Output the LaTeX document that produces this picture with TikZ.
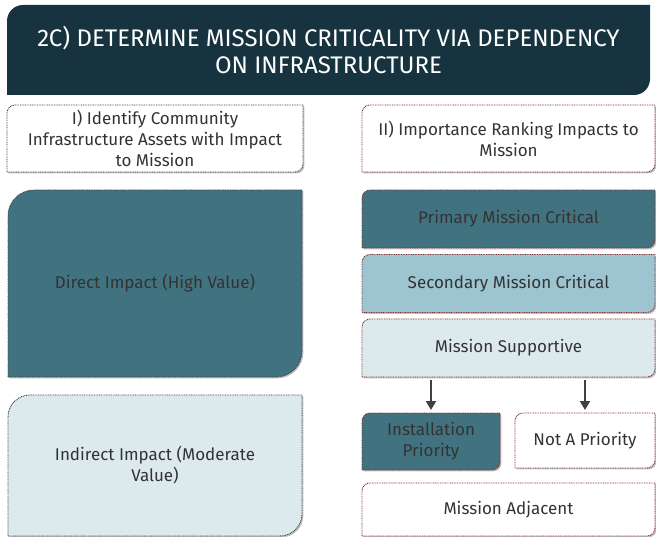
\documentclass[tikz,border=0pt]{standalone}
\usepackage{fontspec}
\setmainfont{Fira Sans}
\usetikzlibrary{positioning,arrows.meta,backgrounds}

\definecolor{titlebg}{HTML}{17333F}
\definecolor{deepteal}{HTML}{41727F}
\definecolor{midteal}{HTML}{9CC4D1}
\definecolor{paleteal}{HTML}{DCEAEE}
\definecolor{boxtext}{HTML}{333333}
\definecolor{greyline}{HTML}{404040}
\definecolor{redline}{HTML}{7E2E2E}

% outline with round top-left and bottom-right corners
\newcommand\diagpath[2]{(#1.south west) -- ([yshift=-#2]#1.north west)
  arc[start angle=180,end angle=90,radius=#2] -- (#1.north east)
  -- ([yshift=#2]#1.south east) arc[start angle=0,end angle=-90,radius=#2] -- cycle}
\newcommand\panel[4]{%
  \fill[black!45,opacity=.55,transform canvas={shift={(1.4pt,-1.4pt)}}] \diagpath{#1}{#2};
  \filldraw[fill=#3,draw=#4,line width=.9pt,dash pattern=on .9pt off .8pt] \diagpath{#1}{#2};}

\tikzset{
  box/.style={inner sep=0pt, outer sep=0pt, align=center, text=boxtext,
    font=\fontsize{17}{21}\selectfont, anchor=north west},
  wide/.style={box, minimum width=293pt, minimum height=58pt},
  downarrow/.style={line width=2.2pt, draw=greyline,
    -{Triangle[length=9pt,width=10pt]}, shorten <=3pt, shorten >=3pt}
}

\begin{document}
\begin{tikzpicture}[x=1pt,y=-1pt]
        \useasboundingbox (0,0) rectangle (656,537);

        \node [box, minimum width=643pt, minimum height=90pt, text=white,
               font=\fontsize{24}{27}\selectfont] (title) at (7,5)
              {2C) DETERMINE MISSION CRITICALITY VIA DEPENDENCY\\ON INFRASTRUCTURE};

        % left column
        \node [box, minimum width=296pt, minimum height=67pt] (identify) at (7,105)
              {I) Identify Community\\Infrastructure Assets with Impact\\to Mission};
        \node [box, minimum width=294pt, minimum height=187pt] (direct) at (8,190)
              {Direct Impact (High Value)};
        \node [box, minimum width=294pt, minimum height=141pt] (indirect) at (8,395)
              {Indirect Impact (Moderate\\Value)};

        % right column
        \node [box, minimum width=293pt, minimum height=67pt] (ranking) at (362,105)
              {II) Importance Ranking Impacts to\\Mission};
        \node [wide] (primary) at (362,190) {Primary Mission Critical};
        \node [wide, below=6.5pt of primary.south west, anchor=north west] (secondary)
              {Secondary Mission Critical};
        \node [wide, below=6.5pt of secondary.south west, anchor=north west] (supportive)
              {Mission Supportive};
        \node [box, minimum width=138pt, minimum height=57pt] (install) at (362,413)
              {Installation\\Priority};
        \node [box, minimum width=140pt, minimum height=55pt] (notprio) at (515,413)
              {Not A Priority};
        \node [box, minimum width=293pt, minimum height=53pt] (adjacent) at (362,483)
              {Mission Adjacent};

        \begin{scope}[on background layer]
            \fill[titlebg] \diagpath{title}{16pt};
            \panel{identify}{8pt}{white}{greyline}
            \panel{direct}{26pt}{deepteal}{greyline}
            \panel{indirect}{22pt}{paleteal}{greyline}
            \panel{ranking}{8pt}{white}{redline}
            \panel{primary}{8pt}{deepteal}{redline}
            \panel{secondary}{8pt}{midteal}{redline}
            \panel{supportive}{8pt}{paleteal}{redline}
            \panel{install}{8pt}{deepteal}{redline}
            \panel{notprio}{8pt}{white}{redline}
            \panel{adjacent}{8pt}{white}{redline}
        \end{scope}

        \draw [downarrow] (supportive.south -| install.north) -- (install.north);
        \draw [downarrow] (supportive.south -| notprio.north) -- (notprio.north);
    \end{tikzpicture}
\end{document}
